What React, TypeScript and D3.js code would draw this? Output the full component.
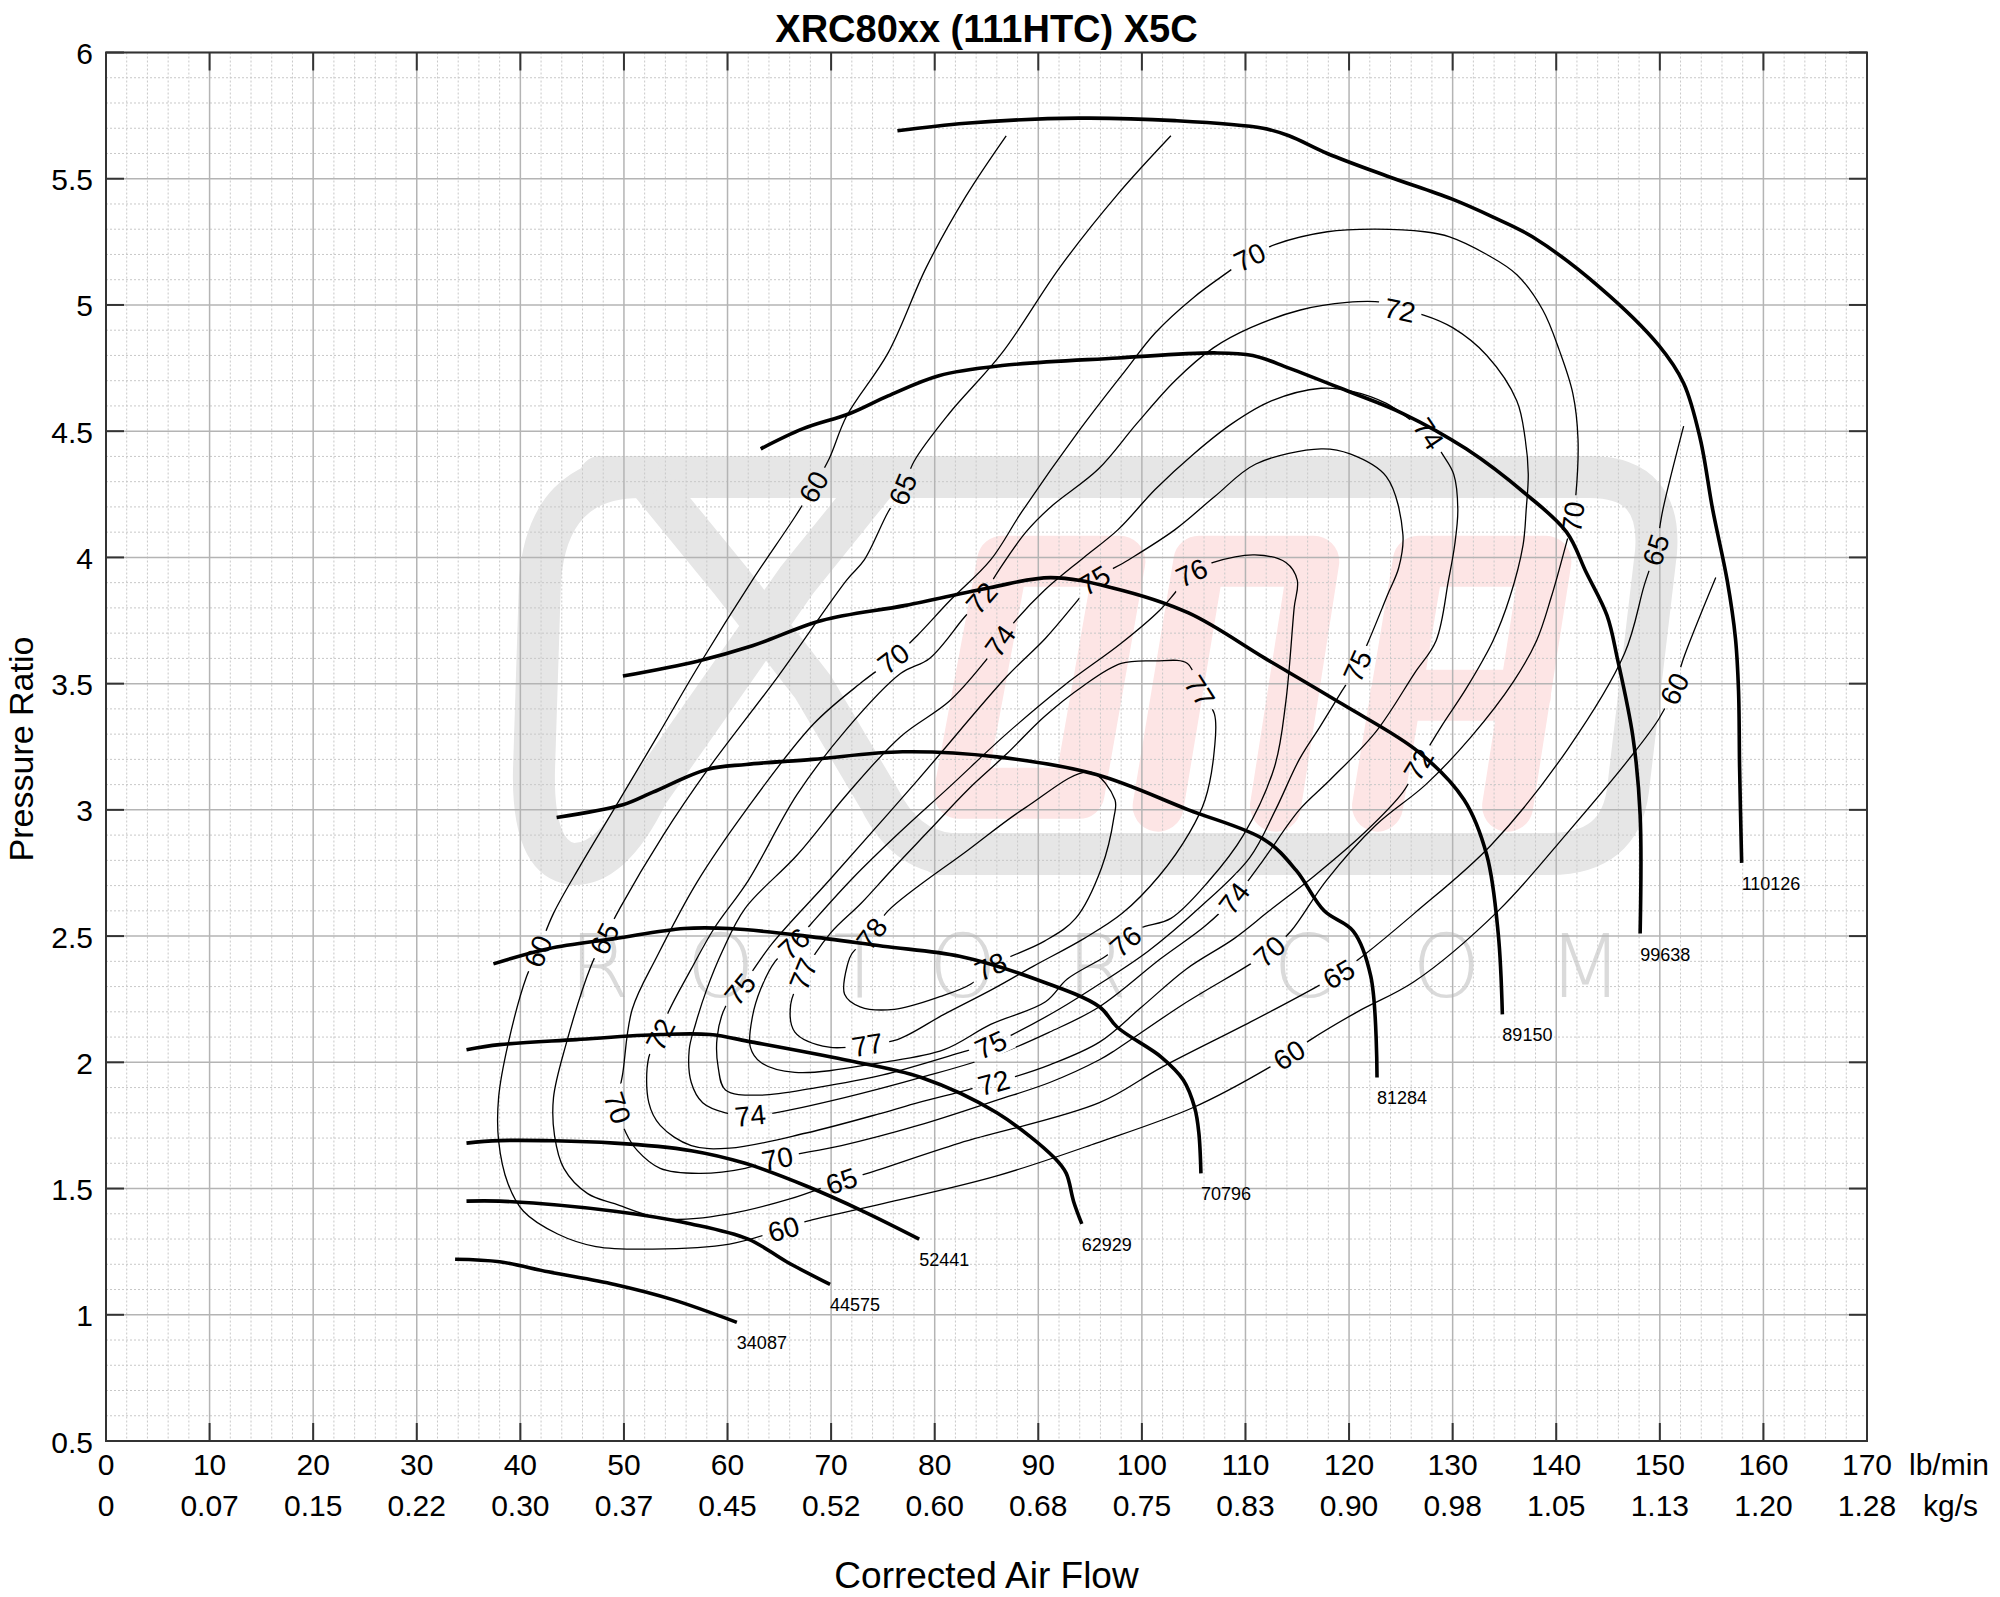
import * as d3 from "d3";

type Pt = [number, number];

const W = 2000;
const H = 1597;
const X0 = 106;
const X1 = 1867;
const Y0 = 52.5;
const Y1 = 1441;
const FONT = "'Liberation Sans', Arial, Helvetica, sans-serif";

const title = "XRC80xx (111HTC) X5C";
const flowTicks = d3.range(0, 171, 10);
const kgsLabels = ["0", "0.07", "0.15", "0.22", "0.30", "0.37", "0.45", "0.52", "0.60", "0.68", "0.75", "0.83", "0.90", "0.98", "1.05", "1.13", "1.20", "1.28"];
const prTicks = [0.5, 1, 1.5, 2, 2.5, 3, 3.5, 4, 4.5, 5, 5.5, 6];

// speed lines (lb/min, pressure ratio)
const speed34087: Pt[] = [[33.7, 1.22], [38.0, 1.21], [42.7, 1.17], [49.1, 1.12], [54.7, 1.06], [60.9, 0.97]];
const speed44575: Pt[] = [[34.8, 1.45], [38.0, 1.45], [49.1, 1.41], [56.5, 1.36], [62.0, 1.3], [65.7, 1.21], [69.9, 1.12]];
const speed52441: Pt[] = [[34.8, 1.68], [38.0, 1.69], [49.1, 1.68], [56.5, 1.65], [61.7, 1.6], [67.6, 1.51], [73.1, 1.41], [78.5, 1.3]];
const speed62929: Pt[] = [[34.8, 2.05], [38.0, 2.07], [45.4, 2.09], [53.5, 2.11], [58.3, 2.11], [62.4, 2.08], [71.3, 2.01], [78.7, 1.94], [86.0, 1.8], [91.6, 1.62], [92.7, 1.56], [93.4, 1.45], [94.2, 1.36]];
const speed70796: Pt[] = [[37.4, 2.39], [42.7, 2.45], [49.1, 2.49], [55.8, 2.53], [60.2, 2.53], [67.6, 2.5], [75.0, 2.46], [82.4, 2.42], [89.7, 2.33], [95.9, 2.22], [97.6, 2.14], [101.9, 2.02], [104.0, 1.93], [105.1, 1.82], [105.5, 1.72], [105.7, 1.56]];
const speed81284: Pt[] = [[43.5, 2.97], [49.9, 3.02], [52.8, 3.07], [58.0, 3.16], [61.8, 3.18], [68.2, 3.2], [76.9, 3.23], [86.0, 3.21], [95.6, 3.14], [104.5, 3.0], [111.9, 2.88], [114.9, 2.76], [117.6, 2.6], [120.4, 2.52], [122.1, 2.34], [122.7, 1.94]];
const speed89150: Pt[] = [[49.9, 3.53], [57.2, 3.59], [62.4, 3.65], [69.1, 3.75], [77.2, 3.81], [85.3, 3.88], [91.2, 3.92], [97.1, 3.88], [104.5, 3.78], [111.9, 3.6], [119.3, 3.42], [126.7, 3.23], [131.1, 3.04], [133.3, 2.82], [134.4, 2.51], [134.8, 2.19]];
const speed99638: Pt[] = [[63.2, 4.43], [67.3, 4.51], [71.8, 4.57], [75.5, 4.64], [80.4, 4.72], [86.5, 4.76], [97.7, 4.79], [107.0, 4.81], [110.7, 4.8], [114.2, 4.75], [119.8, 4.66], [125.2, 4.57], [131.3, 4.43], [137.1, 4.25], [141.0, 4.1], [142.9, 3.94], [144.9, 3.77], [145.9, 3.6], [147.4, 3.29], [148.1, 2.98], [148.1, 2.51]];
const speed110126: Pt[] = [[76.4, 5.69], [83.0, 5.72], [93.9, 5.74], [103.2, 5.73], [111.7, 5.7], [114.2, 5.67], [117.9, 5.6], [123.7, 5.51], [129.9, 5.42], [133.8, 5.35], [137.7, 5.27], [144.2, 5.07], [149.9, 4.84], [152.3, 4.69], [153.9, 4.47], [155.1, 4.19], [156.5, 3.91], [157.3, 3.68], [157.6, 3.47], [157.7, 3.17], [157.9, 2.79]];

// efficiency islands
const eff60: Pt[] = [[86.9, 5.67], [83.0, 5.43], [79.2, 5.15], [75.5, 4.81], [71.5, 4.56], [69.8, 4.39], [68.3, 4.28], [66.5, 4.16], [62.4, 3.91], [57.2, 3.57], [53.2, 3.29], [49.0, 3.0], [45.8, 2.78], [43.2, 2.59], [41.7, 2.44], [40.6, 2.34], [38.8, 2.07], [37.9, 1.86], [37.9, 1.69], [38.8, 1.52], [40.3, 1.41], [43.6, 1.32], [47.3, 1.27], [52.8, 1.26], [60.2, 1.28], [65.4, 1.34], [67.6, 1.37], [75.0, 1.44], [86.0, 1.55], [95.6, 1.68], [104.9, 1.82], [112.3, 1.98], [114.2, 2.03], [116.3, 2.09], [120.8, 2.2], [126.3, 2.32], [134.4, 2.6], [141.1, 2.91], [147.0, 3.2], [149.9, 3.36], [151.4, 3.48], [152.2, 3.59], [155.4, 3.92]];
const eff65: Pt[] = [[102.8, 5.67], [97.7, 5.44], [92.1, 5.15], [86.5, 4.81], [81.4, 4.57], [78.0, 4.38], [76.9, 4.27], [75.5, 4.18], [73.2, 3.99], [71.5, 3.91], [64.9, 3.53], [58.1, 3.16], [53.8, 2.9], [49.6, 2.61], [48.1, 2.49], [46.8, 2.38], [44.4, 2.07], [43.2, 1.86], [43.3, 1.71], [44.2, 1.58], [46.5, 1.48], [49.1, 1.44], [53.9, 1.38], [60.2, 1.4], [66.1, 1.46], [71.0, 1.53], [73.5, 1.56], [82.4, 1.68], [95.9, 1.84], [101.9, 1.98], [110.5, 2.16], [116.9, 2.3], [119.0, 2.35], [121.3, 2.42], [126.3, 2.59], [133.7, 2.86], [141.1, 3.24], [146.6, 3.62], [148.5, 3.89], [149.6, 4.03], [150.3, 4.19], [152.3, 4.52]];
const eff70: Pt[] = [[110.4, 5.19], [112.9, 5.24], [117.9, 5.29], [122.4, 5.3], [127.3, 5.29], [129.7, 5.27], [133.3, 5.2], [136.2, 5.12], [138.7, 4.98], [140.3, 4.82], [141.6, 4.65], [142.1, 4.47], [141.9, 4.25], [141.6, 4.16], [140.8, 4.03], [139.5, 3.84], [138.1, 3.67], [135.9, 3.51], [131.8, 3.29], [127.4, 3.1], [122.6, 2.94], [117.8, 2.72], [114.4, 2.52], [112.3, 2.44], [110.1, 2.38], [104.0, 2.23], [97.5, 2.05], [95.9, 2.01], [91.1, 1.92], [86.0, 1.85], [78.4, 1.75], [71.0, 1.67], [64.8, 1.62], [61.7, 1.58], [57.2, 1.56], [53.5, 1.58], [51.3, 1.65], [50.2, 1.72], [49.4, 1.82], [49.9, 1.96], [50.8, 2.21], [53.2, 2.42], [57.0, 2.71], [61.8, 3.0], [68.3, 3.34], [73.1, 3.51], [76.0, 3.6], [78.3, 3.69], [81.5, 3.83], [85.4, 3.99], [88.4, 4.18], [93.9, 4.5], [98.4, 4.74], [101.3, 4.89], [105.0, 5.03], [108.3, 5.13]];
const eff72: Pt[] = [[124.9, 4.98], [127.2, 4.96], [130.0, 4.91], [133.3, 4.8], [136.2, 4.62], [137.0, 4.47], [137.3, 4.33], [137.1, 4.19], [136.8, 4.05], [135.5, 3.84], [133.9, 3.67], [131.3, 3.48], [128.9, 3.33], [126.7, 3.18], [125.2, 3.07], [121.5, 2.91], [116.7, 2.74], [112.3, 2.6], [108.9, 2.49], [104.3, 2.37], [100.0, 2.22], [95.9, 2.08], [91.1, 1.99], [87.5, 1.94], [85.7, 1.92], [83.1, 1.89], [78.4, 1.84], [75.0, 1.8], [67.6, 1.72], [60.2, 1.66], [56.5, 1.67], [53.5, 1.75], [52.4, 1.84], [52.4, 2.02], [53.5, 2.11], [54.3, 2.2], [56.5, 2.37], [58.7, 2.53], [62.0, 2.72], [66.7, 3.06], [71.5, 3.32], [76.7, 3.54], [79.5, 3.6], [82.8, 3.76], [84.5, 3.84], [86.2, 3.95], [88.8, 4.1], [91.2, 4.2], [95.8, 4.35], [99.5, 4.53], [103.2, 4.7], [106.9, 4.83], [110.5, 4.91], [115.3, 4.98], [119.8, 5.01], [123.1, 5.01]];
const eff74: Pt[] = [[127.7, 4.49], [129.0, 4.41], [130.1, 4.33], [130.5, 4.19], [130.2, 4.05], [129.6, 3.91], [128.4, 3.67], [126.3, 3.54], [122.6, 3.31], [118.2, 3.12], [115.2, 3.0], [111.7, 2.8], [108.9, 2.65], [106.1, 2.54], [101.8, 2.41], [95.9, 2.22], [91.1, 2.12], [86.0, 2.03], [78.7, 1.94], [71.3, 1.86], [64.6, 1.8], [62.2, 1.79], [59.8, 1.8], [57.6, 1.84], [56.5, 1.92], [56.3, 2.05], [56.9, 2.15], [58.0, 2.29], [59.5, 2.44], [61.7, 2.61], [66.7, 2.82], [71.5, 3.06], [76.7, 3.29], [81.4, 3.43], [84.7, 3.58], [86.3, 3.67], [87.6, 3.74], [90.6, 3.87], [94.4, 4.0], [97.7, 4.11], [101.3, 4.27], [105.0, 4.41], [108.7, 4.53], [112.5, 4.62], [117.3, 4.67], [120.1, 4.66], [123.6, 4.61], [126.4, 4.53]];
const eff75: Pt[] = [[95.4, 3.91], [98.7, 3.99], [103.2, 4.11], [107.0, 4.24], [111.0, 4.37], [117.3, 4.43], [120.1, 4.41], [123.6, 4.32], [125.2, 4.09], [124.8, 3.96], [123.7, 3.85], [121.9, 3.67], [120.8, 3.57], [119.3, 3.47], [117.2, 3.33], [115.2, 3.2], [112.9, 3.0], [110.4, 2.81], [105.5, 2.61], [100.6, 2.44], [95.9, 2.31], [92.0, 2.21], [87.5, 2.11], [85.4, 2.07], [83.5, 2.05], [75.0, 1.95], [68.6, 1.9], [63.2, 1.87], [59.8, 1.89], [59.1, 1.98], [59.0, 2.1], [59.8, 2.22], [61.2, 2.29], [64.3, 2.47], [69.8, 2.72], [78.4, 3.12], [87.0, 3.53], [90.7, 3.68], [93.8, 3.83]];
const eff76: Pt[] = [[104.8, 3.94], [106.9, 3.98], [110.9, 4.01], [113.9, 3.98], [115.0, 3.91], [114.7, 3.8], [113.9, 3.43], [112.8, 3.17], [109.8, 2.9], [106.5, 2.72], [102.8, 2.57], [99.8, 2.53], [98.4, 2.48], [96.5, 2.42], [92.8, 2.33], [90.7, 2.24], [85.4, 2.15], [80.9, 2.05], [75.0, 2.0], [66.5, 1.96], [63.2, 2.0], [62.2, 2.06], [62.4, 2.18], [63.2, 2.29], [64.6, 2.4], [66.4, 2.47], [68.1, 2.55], [72.1, 2.73], [76.6, 2.91], [81.4, 3.09], [86.9, 3.3], [92.4, 3.49], [98.0, 3.66], [101.7, 3.79], [103.2, 3.86]];
const eff77: Pt[] = [[105.6, 3.47], [107.0, 3.38], [107.0, 3.24], [106.1, 3.04], [104.6, 2.91], [101.7, 2.74], [98.1, 2.59], [94.4, 2.49], [89.5, 2.38], [85.6, 2.29], [80.9, 2.19], [76.4, 2.09], [73.5, 2.07], [69.8, 2.06], [66.5, 2.12], [66.1, 2.23], [67.3, 2.35], [69.9, 2.51], [72.9, 2.63], [75.8, 2.76], [79.5, 2.92], [83.2, 3.08], [86.9, 3.22], [90.6, 3.37], [94.3, 3.49], [98.0, 3.58], [101.3, 3.59], [104.4, 3.58]];
const eff78: Pt[] = [[73.9, 2.51], [75.5, 2.6], [83.2, 2.84], [88.8, 3.01], [95.0, 3.15], [97.4, 3.04], [97.3, 2.97], [96.1, 2.77], [93.6, 2.57], [90.6, 2.48], [85.4, 2.38], [83.5, 2.31], [80.5, 2.26], [76.1, 2.21], [72.8, 2.22], [71.3, 2.27], [71.6, 2.39], [72.0, 2.43]];

// where each contour carries its value label
const lab60: Pt[] = [[68.3, 4.28], [41.7, 2.44], [65.4, 1.34], [114.2, 2.03], [151.4, 3.48]];
const lab65: Pt[] = [[76.9, 4.27], [48.1, 2.49], [71.0, 1.53], [119.0, 2.35], [149.6, 4.03]];
const lab70: Pt[] = [[110.4, 5.19], [141.6, 4.16], [112.3, 2.44], [64.8, 1.62], [49.4, 1.82], [76.0, 3.6]];
const lab72: Pt[] = [[124.9, 4.98], [126.7, 3.18], [85.7, 1.92], [53.5, 2.11], [84.5, 3.84]];
const lab74: Pt[] = [[127.7, 4.49], [108.9, 2.65], [62.2, 1.79], [86.3, 3.67]];
const lab75: Pt[] = [[95.4, 3.91], [120.8, 3.57], [85.4, 2.07], [61.2, 2.29]];
const lab76: Pt[] = [[104.8, 3.94], [98.4, 2.48], [66.4, 2.47]];
const lab77: Pt[] = [[105.6, 3.47], [73.5, 2.07], [67.3, 2.35]];
const lab78: Pt[] = [[73.9, 2.51], [85.4, 2.38]];

const speedLines = [
  { rpm: "34087", pts: speed34087 },
  { rpm: "44575", pts: speed44575 },
  { rpm: "52441", pts: speed52441 },
  { rpm: "62929", pts: speed62929 },
  { rpm: "70796", pts: speed70796 },
  { rpm: "81284", pts: speed81284 },
  { rpm: "89150", pts: speed89150 },
  { rpm: "99638", pts: speed99638 },
  { rpm: "110126", pts: speed110126 },
];

const contours = [
  { level: 60, pts: eff60, closed: false, labels: lab60 },
  { level: 65, pts: eff65, closed: false, labels: lab65 },
  { level: 70, pts: eff70, closed: true, labels: lab70 },
  { level: 72, pts: eff72, closed: true, labels: lab72 },
  { level: 74, pts: eff74, closed: true, labels: lab74 },
  { level: 75, pts: eff75, closed: true, labels: lab75 },
  { level: 76, pts: eff76, closed: true, labels: lab76 },
  { level: 77, pts: eff77, closed: true, labels: lab77 },
  { level: 78, pts: eff78, closed: true, labels: lab78 },
];

// watermark letters, centres in the shrunk picture space
const wmLetters = ["R", "O", "T", "O", "R", ".", "C", "O", "M"];
const wmLetterX = [470, 565, 674, 755, 860, 942, 1022, 1134, 1243];

function labelAngle(px: number, py: number, path: Pt[], closed: boolean) {
  let best = Infinity;
  let ang = 0;
  const n = path.length;
  const segs = closed ? n : n - 1;
  for (let i = 0; i < segs; i++) {
    const a = path[i];
    const b = path[(i + 1) % n];
    const dx = b[0] - a[0];
    const dy = b[1] - a[1];
    const l2 = dx * dx + dy * dy || 1;
    let t = ((px - a[0]) * dx + (py - a[1]) * dy) / l2;
    t = Math.max(0, Math.min(1, t));
    const qx = a[0] + t * dx;
    const qy = a[1] + t * dy;
    const d = (px - qx) ** 2 + (py - qy) ** 2;
    if (d < best) {
      best = d;
      ang = (Math.atan2(dy, dx) * 180) / Math.PI;
    }
  }
  if (ang > 90) ang -= 180;
  if (ang <= -90) ang += 180;
  return ang;
}

export default function App() {
  const x = d3.scaleLinear().domain([0, 170]).range([X0, X1]);
  const y = d3.scaleLinear().domain([0.5, 6]).range([Y1, Y0]);

  const minorX = d3.range(0, 171, 2).filter((v) => v % 10 !== 0);
  const minorY = d3.range(5, 61).map((v) => v / 10).filter((v) => Math.abs(v * 2 - Math.round(v * 2)) > 1e-6);

  const openLine = d3.line<Pt>().x((d) => x(d[0])).y((d) => y(d[1])).curve(d3.curveCatmullRom.alpha(0.5));
  const closedLine = d3.line<Pt>().x((d) => x(d[0])).y((d) => y(d[1])).curve(d3.curveCatmullRomClosed.alpha(0.5));

  const labelItems = contours.flatMap((c) => {
    const pix: Pt[] = c.pts.map((p) => [x(p[0]), y(p[1])]);
    return c.labels.map((l, i) => {
      const px = x(l[0]);
      const py = y(l[1]);
      return { key: `${c.level}-${i}`, text: String(c.level), px, py, ang: labelAngle(px, py, pix, c.closed) };
    });
  });

  const tickLen = 18;

  return (
    <svg width={W} height={H} viewBox={`0 0 ${W} ${H}`} style={{ position: "absolute", left: 0, top: 0, background: "#fff" }} fontFamily={FONT}>
      <rect x={0} y={0} width={W} height={H} fill="#fff" />

      {/* watermark */}
      <g fill="none" stroke="#e6e6e6" strokeWidth={42} strokeLinecap="round" strokeLinejoin="round">
        <path d="M 600 477 L 1590 477 Q 1662 477 1656 552 L 1628 790 Q 1620 854 1550 854 L 940 854" />
        <path d="M 650 482 L 730 580 L 813 687 L 880 800 Q 905 850 950 854" />
        <path d="M 880 477 L 797 580 L 647 794 Q 612 866 572 864 Q 532 858 534 770 L 540 580 Q 548 477 640 477" />
      </g>
      <g transform="scale(1.2755)" fill="none" stroke="#fde5e5" strokeWidth={40} strokeLinecap="round" strokeLinejoin="round">
        <path d="M 752 622 L 786 440 L 878 440 L 846 622 Z" />
        <path d="M 908 632 L 940 440 L 1030 440 L 1000 632" />
        <path d="M 1080 632 L 1112 440 L 1212 440 L 1182 632 M 1094 545 L 1196 545" />
      </g>
      <g transform="scale(1.2755)">
        {wmLetters.map((ch, i) => (
          <text key={i} x={wmLetterX[i]} y={782} textAnchor="middle" fontSize={68} fontFamily="'DejaVu Sans', sans-serif" fontWeight={200} fill="#dadada">
            {ch}
          </text>
        ))}
      </g>

      {/* grid */}
      <g stroke="#c8c8c8" strokeWidth={1} strokeDasharray="2,2">
        {minorX.map((v) => (
          <line key={`mx${v}`} x1={x(v)} x2={x(v)} y1={Y0} y2={Y1} />
        ))}
        {minorY.map((v) => (
          <line key={`my${v}`} x1={X0} x2={X1} y1={y(v)} y2={y(v)} />
        ))}
      </g>
      <g stroke="#b4b4b4" strokeWidth={1.5}>
        {flowTicks.map((v) => (
          <line key={`gx${v}`} x1={x(v)} x2={x(v)} y1={Y0} y2={Y1} />
        ))}
        {prTicks.map((v) => (
          <line key={`gy${v}`} x1={X0} x2={X1} y1={y(v)} y2={y(v)} />
        ))}
      </g>

      {/* efficiency contours, broken where labels sit */}
      <defs>
        <mask id="labelGaps" maskUnits="userSpaceOnUse" x={0} y={0} width={W} height={H}>
          <rect x={0} y={0} width={W} height={H} fill="#fff" />
          {labelItems.map((l) => (
            <rect key={l.key} x={l.px - 22} y={l.py - 13} width={44} height={26} fill="#000" transform={`rotate(${l.ang},${l.px},${l.py})`} />
          ))}
        </mask>
      </defs>
      <g mask="url(#labelGaps)" fill="none" stroke="#000" strokeWidth={1.3} strokeLinejoin="round">
        {contours.map((c) => (
          <path key={c.level} d={(c.closed ? closedLine(c.pts) : openLine(c.pts)) ?? ""} />
        ))}
      </g>
      <g fontSize={28} fill="#000" textAnchor="middle">
        {labelItems.map((l) => (
          <text key={l.key} x={l.px} y={l.py} dy="0.36em" transform={`rotate(${l.ang},${l.px},${l.py})`}>
            {l.text}
          </text>
        ))}
      </g>

      {/* speed lines */}
      <g fill="none" stroke="#000" strokeWidth={3.6} strokeLinejoin="round" strokeLinecap="butt">
        {speedLines.map((s) => (
          <path key={s.rpm} d={openLine(s.pts) ?? ""} />
        ))}
      </g>
      <g fontSize={18} fill="#000">
        {speedLines.map((s) => {
          const end = s.pts[s.pts.length - 1];
          return (
            <text key={s.rpm} x={x(end[0])} y={y(end[1]) + 27}>
              {s.rpm}
            </text>
          );
        })}
      </g>

      {/* frame and ticks */}
      <rect x={X0} y={Y0} width={X1 - X0} height={Y1 - Y0} fill="none" stroke="#333" strokeWidth={2} />
      <g stroke="#333" strokeWidth={2}>
        {flowTicks.map((v) => (
          <g key={`t${v}`}>
            <line x1={x(v)} x2={x(v)} y1={Y1} y2={Y1 - tickLen} />
            <line x1={x(v)} x2={x(v)} y1={Y0} y2={Y0 + tickLen} />
          </g>
        ))}
        {prTicks.map((v) => (
          <g key={`ty${v}`}>
            <line x1={X0} x2={X0 + tickLen} y1={y(v)} y2={y(v)} />
            <line x1={X1} x2={X1 - tickLen} y1={y(v)} y2={y(v)} />
          </g>
        ))}
      </g>

      {/* tick labels */}
      <g fontSize={30} fill="#000" textAnchor="middle">
        {flowTicks.map((v, i) => (
          <g key={`lx${v}`}>
            <text x={x(v)} y={1475}>{v}</text>
            <text x={x(v)} y={1516}>{kgsLabels[i]}</text>
          </g>
        ))}
      </g>
      <text x={1909} y={1475} fontSize={30}>lb/min</text>
      <text x={1923} y={1516} fontSize={30}>kg/s</text>
      <g fontSize={30} fill="#000" textAnchor="end">
        {prTicks.map((v) => (
          <text key={`ly${v}`} x={93} y={y(v) + 11.5}>{v}</text>
        ))}
      </g>

      {/* titles */}
      <text x={(X0 + X1) / 2} y={42} textAnchor="middle" fontSize={38} fontWeight="bold">{title}</text>
      <text x={(X0 + X1) / 2} y={1588} textAnchor="middle" fontSize={37}>Corrected Air Flow</text>
      <text transform="translate(33,749) rotate(-90)" textAnchor="middle" fontSize={34}>Pressure Ratio</text>
    </svg>
  );
}
